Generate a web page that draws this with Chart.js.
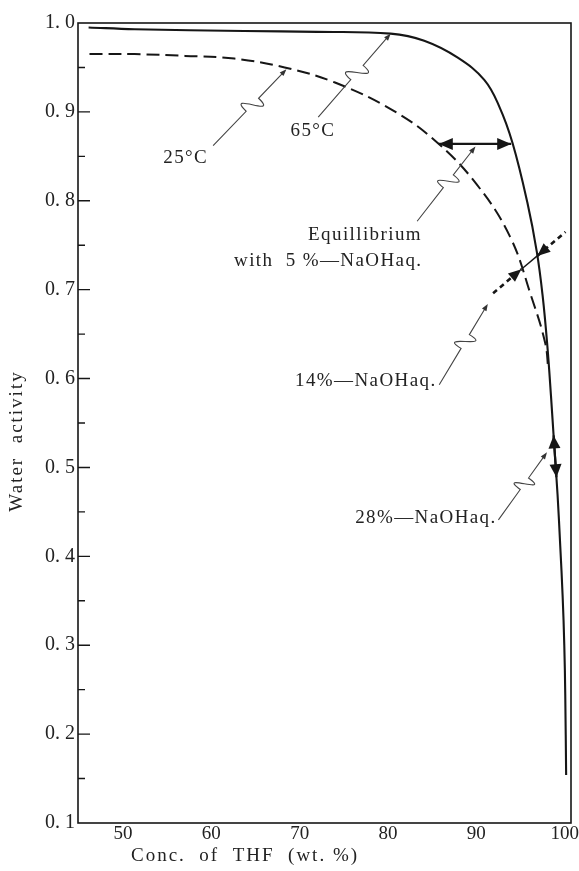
<!DOCTYPE html>
<html>
<head>
<meta charset="utf-8">
<script src="https://cdn.jsdelivr.net/npm/chart.js@4.4.1/dist/chart.umd.min.js"></script>
<style>
    html, body { margin: 0; padding: 0; background: #fff; }
    #wrap { width: 579px; height: 871px; position: relative; }
</style>
</head>
<body>
<div id="wrap"><canvas id="chart"></canvas></div>
<script>
// 65°C curve (solid)
let thf65 = [46.1, 51.3, 63.7, 72.0, 80.3, 84.1, 87.9, 90.9, 92.6, 94.1, 95.78, 96.86, 97.51, 98.04, 98.45, 98.82, 99.2, 99.5, 99.77, 99.96, 100.07, 100.17];
let aw65 = [0.995, 0.993, 0.991, 0.990, 0.988, 0.980, 0.961, 0.936, 0.906, 0.865, 0.798, 0.742, 0.693, 0.637, 0.581, 0.525, 0.469, 0.412, 0.356, 0.300, 0.244, 0.154];

// 25°C curve (dashed)
let thf25 = [46.2, 51.3, 57.0, 62.6, 68.3, 74.0, 80.5, 85.4, 90.0, 93.8, 96.2, 97.8, 98.15];
let aw25 = [0.965, 0.965, 0.963, 0.960, 0.950, 0.933, 0.902, 0.867, 0.819, 0.760, 0.693, 0.640, 0.610];

// equilibrium with NaOH aq.
let tie5Thf = [85.75, 93.95];
let tie5Aw = [0.864, 0.864];
let tie14Thf = [91.9, 95.1, 96.9, 100.1];
let tie14Aw = [0.696, 0.723, 0.738, 0.765];
let tie28Thf = [98.75, 99.07];
let tie28Aw = [0.536, 0.489];

// axes
let xTicks = [50, 60, 70, 80, 90, 100];
let yTicks = [0.1, 0.2, 0.3, 0.4, 0.5, 0.6, 0.7, 0.8, 0.9, 1.0];
let yMinor = [0.15, 0.25, 0.35, 0.45, 0.55, 0.65, 0.75, 0.85, 0.95];

// annotation texts and where they sit (data units)
let noteTexts = ['25°C', '65°C', 'Equillibrium', 'with  5 %—NaOHaq.', '14%—NaOHaq.', '28%—NaOHaq.'];
let noteThf = [57.1, 71.5, 83.85, 83.9, 85.5, 92.3];
let noteAw = [0.848, 0.879, 0.761, 0.732, 0.597, 0.443];
let noteAlign = ['center', 'center', 'right', 'right', 'right', 'right'];

// leader lines from text to curve
let leadFromThf = [60.2, 72.1, 83.3, 85.8, 92.5];
let leadFromAw = [0.862, 0.894, 0.777, 0.593, 0.441];
let leadToThf = [68.5, 80.3, 89.9, 91.3, 98.0];
let leadToAw = [0.948, 0.988, 0.861, 0.684, 0.517];

const ink = '#161616';
const serif = '"Liberation Serif", "Times New Roman", serif';

function pts(xs, ys) {
    return xs.map(function(x, i) { return {x: x, y: ys[i]}; });
}

function head(ctx, tx, ty, fx, fy, len, half) {
    let dx = tx - fx, dy = ty - fy;
    let l = Math.hypot(dx, dy);
    let ux = dx / l, uy = dy / l;
    let bx = tx - ux * len, by = ty - uy * len;
    ctx.beginPath();
    ctx.moveTo(tx, ty);
    ctx.lineTo(bx - uy * half, by + ux * half);
    ctx.lineTo(bx + uy * half, by - ux * half);
    ctx.closePath();
    ctx.fill();
}

function leader(ctx, x0, y0, x1, y1) {
    let dx = x1 - x0, dy = y1 - y0;
    let l = Math.hypot(dx, dy);
    let ux = dx / l, uy = dy / l;
    let nx = -uy, ny = ux;
    let ax = x0 + dx * 0.45, ay = y0 + dy * 0.45;
    let bx = x0 + dx * 0.62, by = y0 + dy * 0.62;
    ctx.beginPath();
    ctx.moveTo(x0, y0);
    ctx.lineTo(ax, ay);
    ctx.bezierCurveTo(ax - nx * 30, ay - ny * 30, bx + nx * 30, by + ny * 30, bx, by);
    ctx.lineTo(x1 - ux * 5, y1 - uy * 5);
    ctx.stroke();
    head(ctx, x1, y1, x0, y0, 7, 2.6);
}

const extras = {
    id: 'extras',
    afterDatasetsDraw(chart) {
        let ctx = chart.ctx, a = chart.chartArea;
        let xs = chart.scales.x, ys = chart.scales.y;
        let X = function(v) { return xs.getPixelForValue(v); };
        let Y = function(v) { return ys.getPixelForValue(v); };
        ctx.save();

        // frame
        ctx.strokeStyle = ink;
        ctx.lineWidth = 1.6;
        ctx.strokeRect(a.left, a.top, a.right - a.left, a.bottom - a.top);

        // inward ticks on the y axis
        ctx.lineWidth = 1.4;
        ctx.beginPath();
        yTicks.slice(1, -1).forEach(function(v) {
            ctx.moveTo(a.left, Y(v));
            ctx.lineTo(a.left + 12, Y(v));
        });
        yMinor.forEach(function(v) {
            ctx.moveTo(a.left, Y(v));
            ctx.lineTo(a.left + 7, Y(v));
        });
        ctx.stroke();

        // arrow heads
        ctx.fillStyle = ink;
        head(ctx, X(tie5Thf[0]), Y(tie5Aw[0]), X(tie5Thf[1]), Y(tie5Aw[1]), 14, 6);
        head(ctx, X(tie5Thf[1]), Y(tie5Aw[1]), X(tie5Thf[0]), Y(tie5Aw[0]), 14, 6);
        head(ctx, X(tie14Thf[1]), Y(tie14Aw[1]), X(tie14Thf[0]), Y(tie14Aw[0]), 13, 5.5);
        head(ctx, X(tie14Thf[2]), Y(tie14Aw[2]), X(tie14Thf[3]), Y(tie14Aw[3]), 13, 5.5);
        head(ctx, X(tie28Thf[0]), Y(tie28Aw[0]), X(tie28Thf[1]), Y(tie28Aw[1]), 13, 6);
        head(ctx, X(tie28Thf[1]), Y(tie28Aw[1]), X(tie28Thf[0]), Y(tie28Aw[0]), 13, 6);

        // leaders
        ctx.strokeStyle = '#444';
        ctx.fillStyle = '#333';
        ctx.lineWidth = 1.1;
        for (let i = 0; i < leadFromThf.length; i++) {
            leader(ctx, X(leadFromThf[i]), Y(leadFromAw[i]), X(leadToThf[i]), Y(leadToAw[i]));
        }

        // notes
        ctx.fillStyle = '#222';
        ctx.font = '19px ' + serif;
        ctx.letterSpacing = '1.4px';
        ctx.textBaseline = 'middle';
        for (let i = 0; i < noteTexts.length; i++) {
            ctx.textAlign = noteAlign[i];
            ctx.fillText(noteTexts[i], X(noteThf[i]), Y(noteAw[i]));
        }
        ctx.restore();
    },
    afterDraw(chart) {
        let ctx = chart.ctx, a = chart.chartArea;
        ctx.save();
        ctx.fillStyle = '#222';
        ctx.font = '19px ' + serif;
        ctx.letterSpacing = '2px';
        ctx.textAlign = 'center';
        ctx.textBaseline = 'middle';
        ctx.fillText('Conc.  of  THF  (wt. %)', a.left + 167, chart.height - 15);
        ctx.translate(17, a.top + 418);
        ctx.rotate(-Math.PI / 2);
        ctx.fillText('Water  activity', 0, 0);
        ctx.restore();
    }
};

new Chart(document.getElementById('chart'), {
    type: 'line',
    data: {
        datasets: [{
            data: pts(thf65, aw65),
            borderColor: ink,
            borderWidth: 2.1,
            tension: 0.4
        }, {
            data: pts(thf25, aw25),
            borderColor: ink,
            borderWidth: 2,
            borderDash: [13, 6],
            tension: 0.4
        }, {
            data: pts(tie5Thf, tie5Aw),
            borderColor: ink,
            borderWidth: 2.2
        }, {
            data: pts(tie14Thf, tie14Aw),
            borderColor: ink,
            borderWidth: 2.5,
            segment: {
                borderDash: function(c) { return c.p0DataIndex === 1 ? [] : [5, 4]; },
                borderWidth: function(c) { return c.p0DataIndex === 1 ? 1.4 : 2.6; }
            }
        }, {
            data: pts(tie28Thf, tie28Aw),
            borderColor: ink,
            borderWidth: 2.2
        }]
    },
    options: {
        responsive: true,
        maintainAspectRatio: false,
        animation: false,
        layout: { padding: { top: 23, right: 8, left: 0, bottom: 0 } },
        elements: { point: { radius: 0 } },
        plugins: { legend: { display: false }, tooltip: { enabled: false } },
        scales: {
            x: {
                type: 'linear',
                min: 44.9,
                max: 100.72,
                grid: { display: false, drawTicks: false },
                border: { display: false },
                ticks: { font: { family: serif, size: 19 }, color: '#222', padding: 0, maxRotation: 0, autoSkip: false },
                afterBuildTicks: function(s) { s.ticks = xTicks.map(function(v) { return {value: v}; }); },
                afterFit: function(s) { s.height = 48; s.paddingLeft = 0; s.paddingRight = 0; }
            },
            y: {
                type: 'linear',
                min: 0.1,
                max: 1.0,
                grid: { display: false, drawTicks: false },
                border: { display: false },
                ticks: {
                    font: { family: serif, size: 20 },
                    color: '#222',
                    padding: 3,
                    callback: function(v) { return v.toFixed(1).replace('.', '. '); }
                },
                afterBuildTicks: function(s) { s.ticks = yTicks.map(function(v) { return {value: v}; }); },
                afterFit: function(s) { s.width = 78; s.paddingTop = 0; s.paddingBottom = 0; }
            }
        }
    },
    plugins: [extras]
});
</script>
</body>
</html>
